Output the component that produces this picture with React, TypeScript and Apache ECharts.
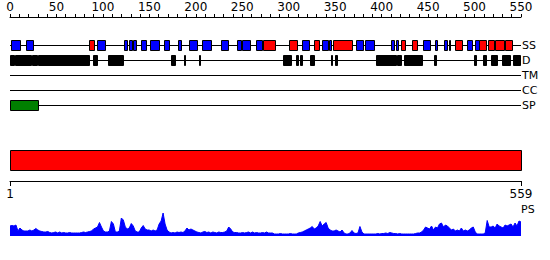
import React, { useEffect, useRef } from "react";
import * as echarts from "echarts";

const SEQ_LENGTH = 559;
const RULER_MAX = 550;
const trackNames = ["SS", "D", "TM", "CC", "SP"];

// Secondary structure (SS row)
const helixSegments: [number, number][] = [
  [87, 93], [277, 290], [306, 314], [333, 338], [354, 375], [428, 432],
  [440, 445], [487, 495], [513, 521], [523, 529], [531, 540], [541, 549],
];
const strandSegments: [number, number][] = [
  [2, 12], [18, 26], [96, 105], [125, 129], [131, 134], [135, 139], [144, 150],
  [154, 164], [169, 175], [184, 188], [197, 205], [211, 221], [231, 239],
  [249, 253], [254, 263], [270, 276], [320, 328], [342, 348], [349, 352],
  [379, 387], [389, 399], [417, 420], [422, 425], [452, 460], [465, 467],
  [475, 478], [480, 482], [500, 506], [509, 513],
];
// Disorder (D row)
const disorderSegments: [number, number][] = [
  [1, 5], [7, 24], [25, 30], [32, 87], [92, 96], [108, 124], [177, 181],
  [191, 192], [207, 208], [299, 308], [313, 315], [318, 320], [329, 333],
  [351, 353], [356, 358], [401, 423], [424, 428], [431, 451], [464, 466],
  [508, 510], [517, 521], [526, 533], [538, 547], [550, 558],
];
const tmSegments: [number, number][] = [];
const ccSegments: [number, number][] = [];
const signalSegments: [number, number][] = [[1, 32]];
const domainSegments: [number, number][] = [[1, 559]];
const bottomRulerTicks = [1, 559];

// PS profile, evenly spaced along the sequence (residue 1 .. 559)
const psScores = [
  10, 10.5, 10, 11, 5, 8, 6, 5, 5, 5, 6, 5, 6, 7.5, 6, 5, 4.5, 4, 4, 4.5,
  3.5, 3, 3.5, 4, 3, 4, 3, 3.5, 3, 3, 3.5, 3, 3, 3, 3, 3, 3.5, 4, 3.5, 4,
  4.5, 5, 7, 8, 9, 13.5, 9, 5, 4, 4, 5, 14.5, 12, 4, 4, 5, 18, 16, 9, 7,
  8, 12.5, 10, 5, 4, 4, 8, 10.5, 7, 6, 6, 5, 6, 5, 6, 12, 15, 23, 12, 6,
  4, 3, 3.5, 3, 4, 3.5, 4, 3.5, 5, 8, 6, 7, 6, 5, 4, 3.5, 3, 4, 4.5, 3.5,
  4, 3, 4, 3.5, 3, 4, 3.5, 3.5, 4, 5, 9, 7, 4, 3.5, 3.5, 3, 3, 3.5, 3, 3.5,
  4, 3, 4, 3, 3.5, 3, 3, 3.5, 3, 4, 3, 3, 3, 2, 2, 2, 2.5, 2, 2, 2,
  2, 2.5, 2, 2, 2, 3, 3.5, 4, 5, 6, 7, 8, 9.5, 7, 8, 10, 14.5, 10, 12, 13.5,
  8, 6, 5, 5, 6, 5, 4, 6, 3, 2, 2, 3, 5.5, 3, 2.5, 3, 9.5, 4, 2, 2,
  2, 2, 2, 2, 2, 2.5, 2, 2.5, 2.5, 3, 2.5, 3.5, 3, 2.5, 2.5, 2, 2.5, 2, 2, 2,
  2, 2, 2, 2, 2.5, 3, 3, 4, 6, 9, 8, 7, 10, 6, 9, 8, 12, 13, 9, 11,
  10, 8, 6, 7, 5, 6, 5, 8, 5, 6, 5, 6, 8, 9, 4, 2, 2, 2, 2, 3,
  15.5, 9, 9, 10, 8, 12, 10, 9, 8, 11, 10, 11, 12, 9, 13, 10, 15, 14,
];

const FONT = "DejaVu Sans";
const LEFT = 10;
const WIDTH = 511;

function boxSeries(
  name: string,
  segs: [number, number][],
  row: number,
  fill: string,
  grid: number,
  height: number
) {
  return {
    type: "custom",
    name,
    xAxisIndex: grid,
    yAxisIndex: grid,
    encode: { x: [0, 1], y: 2 },
    data: segs.map(([s, e]) => [s, e, row]),
    renderItem: (_p: any, api: any) => {
      const p0 = api.coord([api.value(0), api.value(2)]);
      const p1 = api.coord([api.value(1), api.value(2)]);
      const x0 = Math.round(p0[0]) + 0.5;
      const x1 = Math.round(p1[0]) + 0.5;
      const cy = Math.round(p0[1]);
      return {
        type: "rect",
        shape: { x: x0, y: cy - height / 2 + 0.5, width: Math.max(x1 - x0, 1), height },
        style: { fill, stroke: "#000", lineWidth: 1 },
      };
    },
  };
}

export default function App() {
  const ref = useRef<HTMLDivElement>(null);
  useEffect(() => {
    if (!ref.current) return;
    const chart = echarts.init(ref.current, null, { renderer: "svg" });
    const n = psScores.length;
    const psData = psScores.map((v, i) => [1 + (i * (SEQ_LENGTH - 1)) / (n - 1), v]);

    const option: any = {
      animation: false,
      backgroundColor: "#fff",
      textStyle: { fontFamily: FONT, fontSize: 12, color: "#000" },
      grid: [
        { left: LEFT, width: WIDTH, top: 16, height: 1 },
        { left: LEFT, width: WIDTH, top: 45, height: 60 },
        { left: LEFT, width: WIDTH, top: 150, height: 20 },
        { left: LEFT, width: WIDTH, top: 180, height: 1 },
        { left: LEFT, width: WIDTH, top: 206, height: 30 },
      ],
      xAxis: [
        {
          gridIndex: 0,
          type: "value",
          position: "top",
          min: 0,
          max: RULER_MAX,
          interval: 10,
          splitLine: { show: false },
          axisLine: { lineStyle: { color: "#000", width: 1 } },
          axisTick: { length: 3, lineStyle: { color: "#000" } },
          axisLabel: {
            margin: 3,
            color: "#000",
            fontFamily: FONT,
            fontSize: 12,
            formatter: (v: number) => (v % 50 === 0 ? String(v) : ""),
          },
        },
        { gridIndex: 1, type: "value", min: 1, max: SEQ_LENGTH, show: false },
        { gridIndex: 2, type: "value", min: 1, max: SEQ_LENGTH, show: false },
        {
          gridIndex: 3,
          type: "value",
          position: "top",
          min: 1,
          max: SEQ_LENGTH,
          splitLine: { show: false },
          axisLine: { lineStyle: { color: "#000", width: 1 } },
          axisTick: {
            inside: true,
            length: 5,
            customValues: bottomRulerTicks,
            lineStyle: { color: "#000" },
          },
          axisLabel: {
            inside: true,
            margin: 8,
            customValues: bottomRulerTicks,
            color: "#000",
            fontFamily: FONT,
            fontSize: 12,
          },
        },
        { gridIndex: 4, type: "value", min: 1, max: SEQ_LENGTH, show: false },
      ],
      yAxis: [
        { gridIndex: 0, type: "value", show: false },
        {
          gridIndex: 1,
          type: "category",
          data: trackNames,
          inverse: true,
          boundaryGap: false,
          position: "right",
          axisLine: { show: false },
          axisTick: { show: false },
          splitLine: { show: false },
          axisLabel: { margin: 1, color: "#000", fontFamily: FONT, fontSize: 11 },
        },
        { gridIndex: 2, type: "value", min: 0, max: 1, show: false },
        { gridIndex: 3, type: "value", show: false },
        { gridIndex: 4, type: "value", min: 0, max: 30, show: false },
      ],
      graphic: [
        {
          type: "text",
          left: 521,
          top: 204,
          style: { text: "PS", fill: "#000", font: `11px "${FONT}"` },
        },
      ],
      series: [
        {
          type: "custom",
          xAxisIndex: 1,
          yAxisIndex: 1,
          encode: { x: [0, 1], y: 2 },
          data: trackNames.map((_, i) => [1, SEQ_LENGTH, i]),
          renderItem: (_p: any, api: any) => {
            const p0 = api.coord([api.value(0), api.value(2)]);
            const p1 = api.coord([api.value(1), api.value(2)]);
            const y = Math.round(p0[1]) + 0.5;
            return {
              type: "line",
              shape: { x1: p0[0], y1: y, x2: p1[0], y2: y },
              style: { stroke: "#000", lineWidth: 1 },
            };
          },
        },
        boxSeries("strand", strandSegments, 0, "#0000ff", 1, 10),
        boxSeries("helix", helixSegments, 0, "#ff0000", 1, 10),
        boxSeries("disorder", disorderSegments, 1, "#000000", 1, 10),
        boxSeries("tm", tmSegments, 2, "#ffff00", 1, 10),
        boxSeries("cc", ccSegments, 3, "#00ffff", 1, 10),
        boxSeries("signal", signalSegments, 4, "#008000", 1, 10),
        {
          type: "custom",
          xAxisIndex: 2,
          yAxisIndex: 2,
          encode: { x: [0, 1] },
          data: domainSegments.map(([s, e]) => [s, e]),
          renderItem: (_p: any, api: any) => {
            const p0 = api.coord([api.value(0), 1]);
            const p1 = api.coord([api.value(1), 0]);
            return {
              type: "rect",
              shape: {
                x: Math.round(p0[0]) + 0.5,
                y: Math.round(p0[1]) + 0.5,
                width: Math.round(p1[0] - p0[0]),
                height: Math.round(p1[1] - p0[1]),
              },
              style: { fill: "#ff0000", stroke: "#000", lineWidth: 1 },
            };
          },
        },
        {
          type: "line",
          xAxisIndex: 4,
          yAxisIndex: 4,
          data: psData,
          symbol: "none",
          lineStyle: { color: "#0000ff", width: 1 },
          areaStyle: { color: "#0000ff", opacity: 1 },
        },
      ],
    };
    chart.setOption(option);
    return () => chart.dispose();
  }, []);
  return (
    <div
      ref={ref}
      style={{ position: "absolute", left: 0, top: 0, width: 550, height: 260, background: "#fff" }}
    />
  );
}
